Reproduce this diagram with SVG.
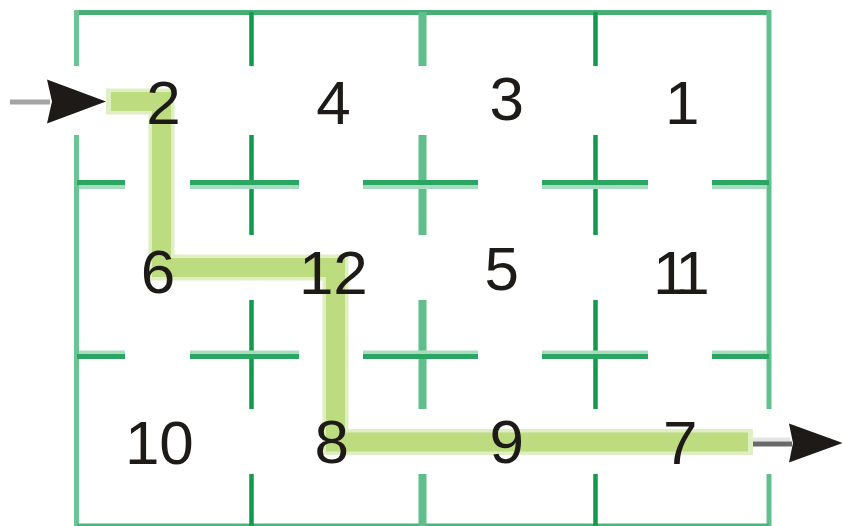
<svg xmlns="http://www.w3.org/2000/svg" width="842" height="526" viewBox="0 0 842 526">
<style>
.outer{fill:none;stroke-linecap:butt}
.vl{stroke:#129B4C;stroke-width:4.5;fill:none}
.vm{stroke:#5FBE8A;stroke-width:8;fill:none}
.hl{stroke:#2AA562;stroke-width:5;fill:none}
.hs{stroke:#A9DBC0;stroke-width:4;fill:none}
.pl{fill:none;stroke:#DFEFC4;stroke-width:26;stroke-linejoin:miter}
.pc{fill:none;stroke:#BDDC7F;stroke-width:19;stroke-linejoin:miter}
.num{font-family:"Liberation Sans",Arial,sans-serif;font-size:62px;fill:#1E1A17}
.head{fill:#1E1A17}
</style>
<rect width="842" height="526" fill="#FFFFFF"/>
<g id="walls">
  <!-- outer walls -->
  <line x1="77" y1="12.5" x2="769" y2="12.5" stroke="#47AF76" stroke-width="5"/>
  <line x1="76.5" y1="10" x2="76.5" y2="66" stroke="#6BC494" stroke-width="5"/>
  <line x1="76.5" y1="135" x2="76.5" y2="526" stroke="#6BC494" stroke-width="5"/>
  <line x1="769" y1="10" x2="769" y2="409" stroke="#62C08D" stroke-width="5"/>
  <line x1="769" y1="474" x2="769" y2="526" stroke="#62C08D" stroke-width="5"/>
  <line x1="77" y1="525" x2="769" y2="525" stroke="#4DB37A" stroke-width="3"/>
  <!-- internal verticals -->
  <path class="vl" d="M251.5 12V66M251.5 135V235M251.5 300V409M251.5 474V526"/>
  <path class="vm" d="M422.5 12V66M422.5 135V235M422.5 300V409M422.5 474V526"/>
  <path class="vl" d="M595.5 12V66M595.5 135V235M595.5 300V409M595.5 474V526"/>
  <!-- internal horizontals -->
  <path class="hs" d="M79 187H125M190 187H299M363 187H478M542 187H648M712 187H767M79 352.5H125M190 352.5H299M363 352.5H478M542 352.5H648M712 352.5H767"/>
  <path class="hl" d="M77 182.5H125M190 182.5H299M363 182.5H478M542 182.5H648M712 182.5H769M77 356.5H125M190 356.5H299M363 356.5H478M542 356.5H648M712 356.5H769"/>
</g>
<g id="connectors">
  <path class="pl" d="M106 101.5H161.5V267.5H335.5V442H753"/>
  <path class="pc" d="M111 101.5H161.5V267.5H335.5V442H748"/>
  <line x1="10" y1="102" x2="50" y2="102" stroke="#A4A4A4" stroke-width="5"/>
  <polygon class="head" points="106,101.5 47,79.5 52,101.5 47,123.5"/>
  <line x1="753" y1="439.5" x2="790" y2="439.5" stroke="#E4E4E4" stroke-width="4"/>
  <line x1="753" y1="444" x2="792" y2="444" stroke="#6A6A6A" stroke-width="5"/>
  <polygon class="head" points="843,443 789,423.5 793,443 789,462.5"/>
</g>
<g id="cell-2"><text class="num" x="146.2" y="124">2</text></g>
<g id="cell-4"><text class="num" x="316.2" y="124">4</text></g>
<g id="cell-3"><text class="num" x="489.4" y="120">3</text></g>
<g id="cell-1"><text class="num" x="664.9" y="124">1</text></g>
<g id="cell-6"><text class="num" x="140.7" y="293">6</text></g>
<g id="cell-12"><text class="num" x="298.9" y="294">12</text></g>
<g id="cell-5"><text class="num" x="484.4" y="290">5</text></g>
<g id="cell-11"><text class="num" x="652.9" y="294" letter-spacing="-7.5">11</text></g>
<g id="cell-10"><text class="num" x="124.9" y="464">10</text></g>
<g id="cell-8"><text class="num" x="314.5" y="463">8</text></g>
<g id="cell-9"><text class="num" x="489.6" y="463">9</text></g>
<g id="cell-7"><text class="num" x="663.1" y="464">7</text></g>
</svg>
